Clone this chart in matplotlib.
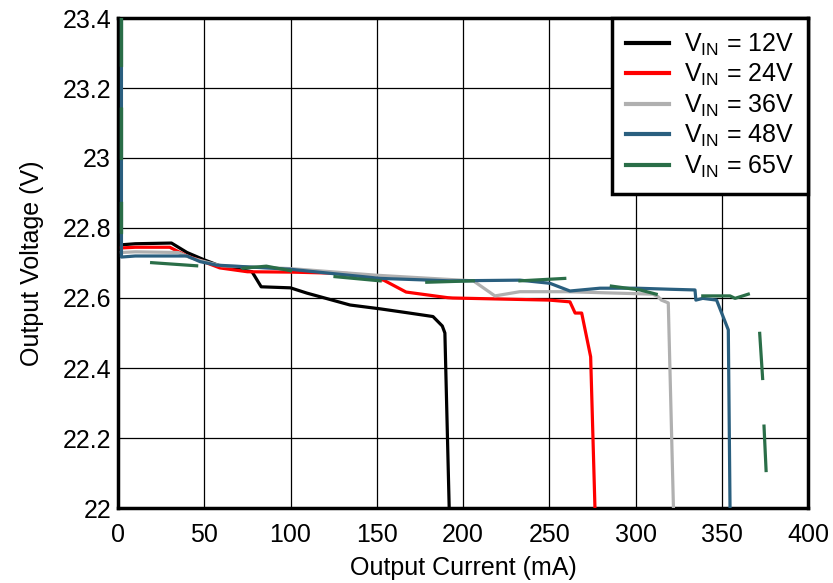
import numpy as np
import matplotlib
matplotlib.use("Agg")
import matplotlib.pyplot as plt

plt.rcParams['font.family'] = ['Liberation Sans', 'DejaVu Sans']

# ---- data (Output current mA, Output voltage V) ----
i12 = [2, 2, 10, 31, 40, 50, 60, 77.7, 83, 100, 109.5, 134.5, 152, 167.5, 182.6, 188, 189.5, 192]
v12 = [22.75, 22.752, 22.755, 22.757, 22.73, 22.709, 22.69, 22.675, 22.632, 22.629, 22.614, 22.58, 22.569, 22.558, 22.547, 22.52, 22.5, 22.0]

i24 = [2, 10, 30, 40, 50, 59, 75, 100, 133, 154, 167, 191, 194, 250, 262, 265, 268.8, 274, 276.5]
v24 = [22.743, 22.745, 22.745, 22.72, 22.703, 22.686, 22.675, 22.674, 22.67, 22.651, 22.617, 22.601, 22.60, 22.594, 22.589, 22.557, 22.557, 22.432, 22.0]

i36 = [2, 10, 35, 42, 50, 60, 100, 150, 206, 218.5, 233, 260, 310, 313, 315, 319, 322]
v36 = [22.73, 22.732, 22.73, 22.715, 22.704, 22.692, 22.684, 22.665, 22.649, 22.606, 22.618, 22.618, 22.611, 22.604, 22.594, 22.586, 22.0]

i48 = [2, 2, 10, 40, 47.5, 57, 100, 152, 192.5, 233, 250.4, 262, 279.4, 300.7, 320, 334.5, 335, 339, 347, 353.8, 354.8]
v48 = [23.4, 22.717, 22.72, 22.72, 22.704, 22.694, 22.682, 22.656, 22.649, 22.651, 22.642, 22.62, 22.628, 22.628, 22.625, 22.623, 22.594, 22.599, 22.594, 22.509, 22.0]

# 65 V trace is broken into segments (gaps = NaN)
nan = np.nan
i65 = [2, 2, nan, 2, 2, nan, 2, 2, nan,
       19.5, 45.6, nan,
       72.5, 86, 100, nan,
       125.8, 152, nan,
       179, 206, nan,
       233, 259, nan,
       286, 302.6, 312, nan,
       339, 354.8, 357.7, 365.4, nan,
       372, 373.7, nan,
       374.5, 375.7]
v65 = [23.4, 23.266, nan, 23.14, 23.0, nan, 22.87, 22.79, nan,
       22.701, 22.692, nan,
       22.685, 22.691, 22.678, nan,
       22.661, 22.649, nan,
       22.645, 22.649, nan,
       22.649, 22.656, nan,
       22.634, 22.623, 22.611, nan,
       22.606, 22.606, 22.599, 22.611, nan,
       22.499, 22.37, nan,
       22.234, 22.107]

labels = ['$\\mathregular{V_{IN}}$ = 12V', '$\\mathregular{V_{IN}}$ = 24V',
          '$\\mathregular{V_{IN}}$ = 36V', '$\\mathregular{V_{IN}}$ = 48V',
          '$\\mathregular{V_{IN}}$ = 65V']
colors = ['#000000', '#ff0000', '#b0b0b0', '#2a5f7f', '#2a6e48']

xticks = [0, 50, 100, 150, 200, 250, 300, 350, 400]
yticks = [22, 22.2, 22.4, 22.6, 22.8, 23, 23.2, 23.4]
yticklabels = ['22', '22.2', '22.4', '22.6', '22.8', '23', '23.2', '23.4']

FS = 18

fig = plt.figure(figsize=(8.33, 5.83), dpi=100)
ax = fig.add_axes([118/833, 1 - 508/583, (808-118)/833, (508-18)/583])

lw = 2.3
ax.plot(i65, v65, color=colors[4], lw=lw, label=labels[4], zorder=3)
ax.plot(i48, v48, color=colors[3], lw=lw, label=labels[3], zorder=2.9)
ax.plot(i36, v36, color=colors[2], lw=lw, label=labels[2], zorder=2.8)
ax.plot(i24, v24, color=colors[1], lw=lw, label=labels[1], zorder=2.7)
ax.plot(i12, v12, color=colors[0], lw=lw, label=labels[0], zorder=2.6)
# redraw 65V spike on top of 48V spike
ax.plot(i65[:8], v65[:8], color=colors[4], lw=lw, zorder=3.1)

ax.set_xlim(0, 400)
ax.set_ylim(22, 23.4)
ax.set_xticks(xticks)
ax.set_yticks(yticks)
ax.set_yticklabels(yticklabels)
ax.tick_params(length=0, labelsize=FS, pad=5)
ax.tick_params(axis='x', pad=11)
ax.grid(True, color='black', lw=0.9)
ax.set_axisbelow(True)
for s in ax.spines.values():
    s.set_linewidth(2.5)
ax.set_xlabel('Output Current (mA)', fontsize=FS, labelpad=6)
ax.set_ylabel('Output Voltage (V)', fontsize=FS, labelpad=13)

handles, labs = ax.get_legend_handles_labels()
order = [4, 3, 2, 1, 0]
leg = ax.legend([handles[k] for k in order], [labs[k] for k in order],
                loc='upper right', fontsize=FS, frameon=True, fancybox=False,
                framealpha=1, edgecolor='black', borderaxespad=0.0,
                handlelength=1.75, handletextpad=0.6, labelspacing=0.17,
                borderpad=0.55)
leg.get_frame().set_linewidth(2.5)
for h in leg.get_lines():
    h.set_linewidth(3)

fig.savefig('out.png', dpi=100)
